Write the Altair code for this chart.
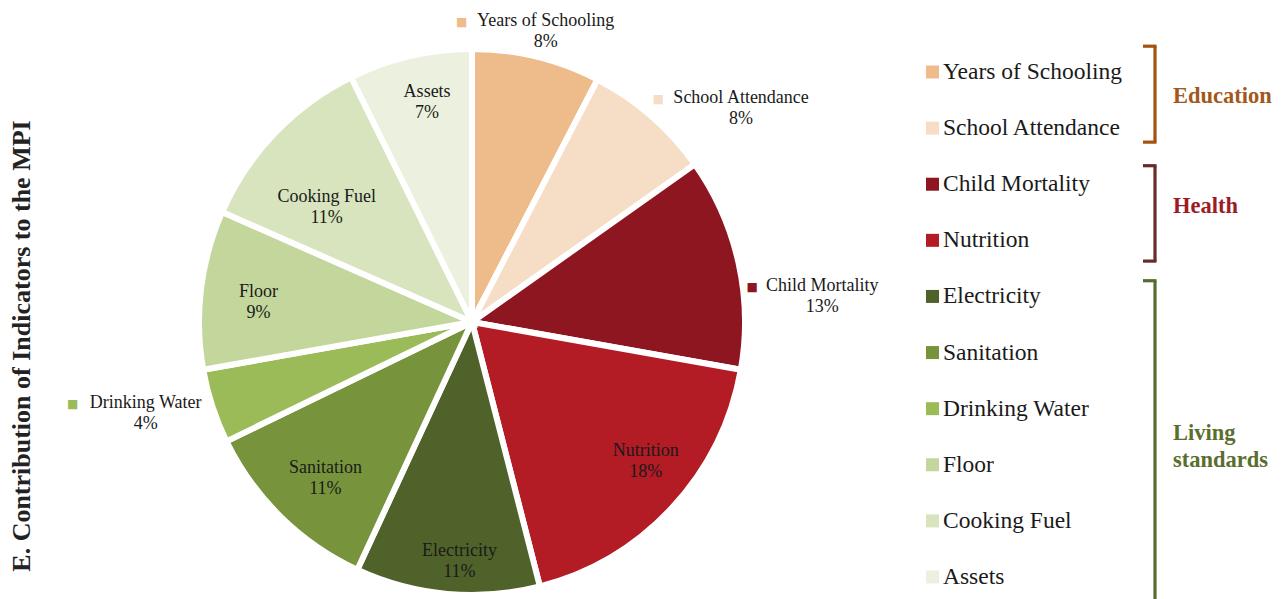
import altair as alt
import pandas as pd

# ---------------- data ----------------
names = ["Years of Schooling", "School Attendance", "Child Mortality", "Nutrition",
         "Electricity", "Sanitation", "Drinking Water", "Floor", "Cooking Fuel", "Assets"]
values = [7.6, 7.6, 12.6, 18.2, 10.9, 10.9, 4.4, 9.4, 11.1, 7.3]
slice_colors = ["#EEBB8B", "#F6DDC6", "#8E1620", "#B31B25", "#4F622A",
                "#77943C", "#9BBB59", "#C3D69B", "#D7E4BD", "#EBF1DE"]
dimension = ["Education", "Education", "Health", "Health", "Living standards",
             "Living standards", "Living standards", "Living standards",
             "Living standards", "Living standards"]
groups = ["Education", "Health", "Living standards"]
group_text_colors = ["#A3571C", "#9B1C26", "#5B6E2E"]
bracket_colors = ["#A3520F", "#6B2A2A", "#556B2F"]
title_text = "E. Contribution of Indicators to the MPI"

df = pd.DataFrame({"name": names, "value": values, "idx": list(range(len(names))),
                   "dim": dimension})

FONT = "Liberation Serif"
TXT = "#1a1a1a"

# ---------------- layout (chart coordinates) ----------------
CX, CY = 464, 314
R_OUT = 273

# per-label placement: radius, dx, dy, outside-square offset
label_layout = {
    "Years of Schooling": (320, -2, 20, -84),
    "School Attendance": (320, 59, 27, -83),
    "Child Mortality": (320, 38, 44, -70),
    "Nutrition": (215, 16, -7, None),
    "Electricity": (215, 7, 25, None),
    "Sanitation": (215, 4, 3, None),
    "Drinking Water": (320, -22, -8, -73),
    "Floor": (215, 0, 6, None),
    "Cooking Fuel": (215, 10, 34, None),
    "Assets": (215, 4, -11, None),
}

color_scale = alt.Scale(domain=names, range=slice_colors)
theta = alt.Theta("value:Q", stack=True)
order = alt.Order("idx:Q")

base = alt.Chart(df).encode(theta=theta, order=order,
                            x=alt.value(CX), y=alt.value(CY))

arcs = base.mark_arc(outerRadius=R_OUT, stroke="white", strokeWidth=6).encode(
    color=alt.Color("name:N", scale=color_scale, legend=None)
)

layers = [arcs]
for nm, (r, dx, dy, sq) in label_layout.items():
    t = base.transform_calculate(
        lab=f"datum.name == '{nm}' ? datum.name + '\\n' + format(datum.value/100, '.0%') : ''"
    ).mark_text(radius=r, dx=dx, dy=dy - 10, font=FONT, fontSize=18, color=TXT,
                lineBreak="\n", lineHeight=21, align="center", baseline="middle").encode(
        text="lab:N", detail="name:N")
    layers.append(t)
    if sq is not None:
        s = base.transform_calculate(
            sq=f"datum.name == '{nm}' ? '\u25A0' : ''"
        ).mark_text(radius=r, dx=dx + sq, dy=dy - 9, font="DejaVu Sans", fontSize=12,
                    align="center", baseline="middle").encode(
            text="sq:N", color=alt.Color("name:N", scale=color_scale, legend=None))
        layers.append(s)

# ---------------- manual legend ----------------
row_scale = alt.Scale(domain=[0, 9], range=[64, 569], nice=False, zero=False)
leg = alt.Chart(df)
leg_sq = leg.mark_square(size=169, opacity=1, filled=True).encode(
    x=alt.value(924.5), y=alt.Y("idx:Q", scale=row_scale, axis=None),
    color=alt.Color("name:N", scale=color_scale, legend=None))
leg_txt = leg.mark_text(align="left", baseline="middle", font=FONT, fontSize=23.5,
                        color=TXT).encode(
    x=alt.value(935), y=alt.Y("idx:Q", scale=row_scale, axis=None), text="name:N")
layers += [leg_sq, leg_txt]

# ---------------- brackets + group labels ----------------
bracket_span = {"Education": (-0.46, 1.25), "Health": (1.67, 3.37),
                "Living standards": (3.72, 9.8)}
label_row = {"Education": 0.42, "Health": 2.38, "Living standards": 6.43}
gdf = pd.DataFrame({"group": groups,
                    "top": [bracket_span[g][0] for g in groups],
                    "bottom": [bracket_span[g][1] for g in groups],
                    "lrow": [label_row[g] for g in groups],
                    "lab": ["Education", "Health", "Living\nstandards"]})
for g, bc, tc in zip(groups, bracket_colors, group_text_colors):
    gc = alt.Chart(gdf).transform_filter(alt.datum.group == g)
    vline = gc.mark_rule(color=bc, strokeWidth=3.2).encode(
        x=alt.value(1147), y=alt.Y("top:Q", scale=row_scale, axis=None), y2="bottom:Q")
    ttop = gc.mark_rule(color=bc, strokeWidth=3.2).encode(
        x=alt.value(1135), x2=alt.value(1148.5), y=alt.Y("top:Q", scale=row_scale, axis=None))
    tbot = gc.mark_rule(color=bc, strokeWidth=3.2).encode(
        x=alt.value(1135), x2=alt.value(1148.5), y=alt.Y("bottom:Q", scale=row_scale, axis=None))
    gl = gc.mark_text(align="left", baseline="middle", font=FONT, fontSize=22.5,
                      fontWeight="bold", color=tc, lineBreak="\n", lineHeight=27).encode(
        x=alt.value(1165), y=alt.Y("lrow:Q", scale=row_scale, axis=None), text="lab:N")
    layers += [vline, ttop, tbot, gl]

# ---------------- vertical title ----------------
title = alt.Chart(pd.DataFrame({"t": [title_text]})).mark_text(
    angle=270, font=FONT, fontSize=26, fontWeight="bold", color="#222222",
    align="center", baseline="alphabetic").encode(
    x=alt.value(22), y=alt.value(338), text="t:N")
layers.append(title)

chart = alt.layer(*layers).properties(
    width=1265, height=591,
    autosize=alt.AutoSizeParams(type="none"),
    padding=0,
    background="white",
).configure_view(stroke=None)

chart.save("out.html", embed_options={"renderer": "svg", "actions": False})
